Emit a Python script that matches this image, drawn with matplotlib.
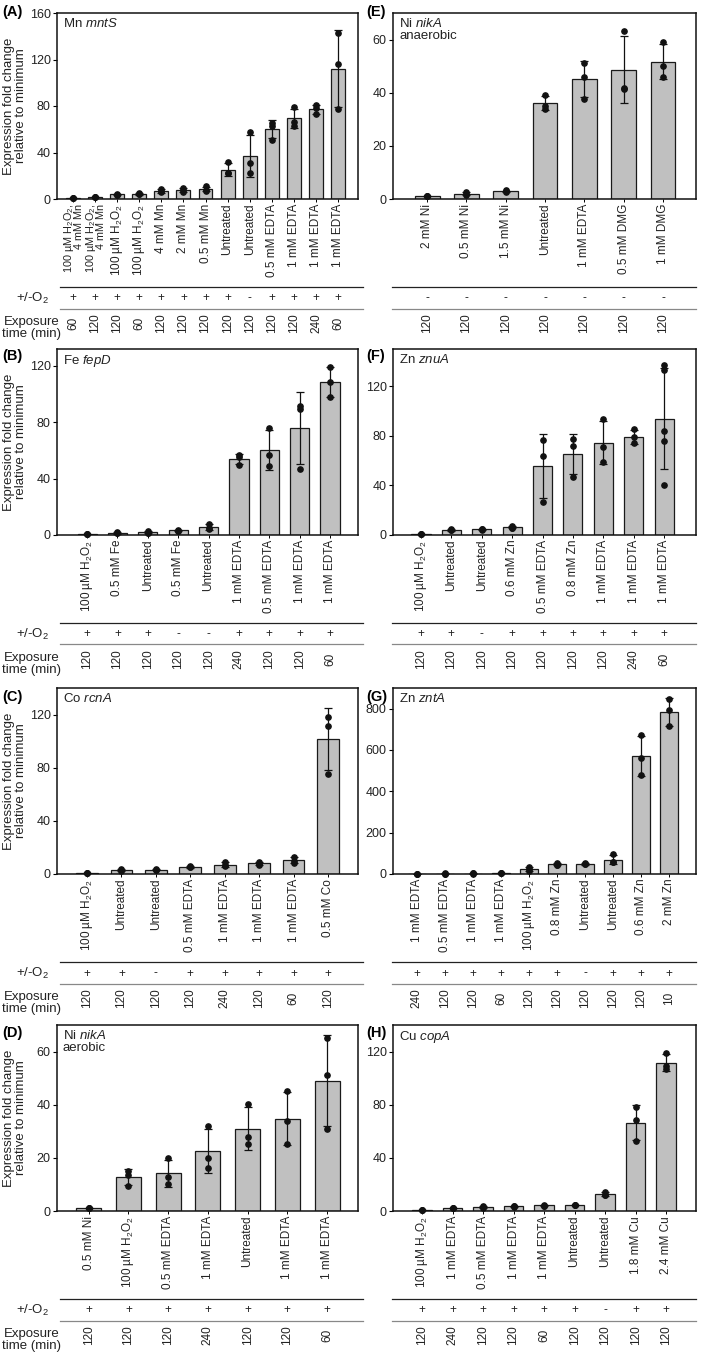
import numpy as np
import matplotlib.pyplot as plt

plt.rcParams['font.family'] = ['Liberation Sans', 'DejaVu Sans']
plt.rcParams['mathtext.fontset'] = 'custom'
plt.rcParams['mathtext.rm'] = 'Liberation Sans'
plt.rcParams['mathtext.it'] = 'Liberation Sans:italic'
plt.rcParams['mathtext.bf'] = 'Liberation Sans:bold'

H2O2 = '100 µM H$_2$O$_2$'

# (A) Mn mntS
A_labels = [H2O2 + ',\n4 mM Mn', H2O2 + ',\n4 mM Mn', H2O2, H2O2, '4 mM Mn', '2 mM Mn',
            '0.5 mM Mn', 'Untreated', 'Untreated', '0.5 mM EDTA', '1 mM EDTA', '1 mM EDTA', '1 mM EDTA']
A_o2 = ['+', '+', '+', '+', '+', '+', '+', '+', '-', '+', '+', '+', '+']
A_time = [60, 120, 120, 60, 120, 120, 120, 120, 120, 120, 120, 240, 60]
A_pts = [[1.0, 0.9, 1.1], [1.4, 2.0, 1.8], [4.5, 3.4, 3.8], [5.5, 4.0, 4.3], [8.5, 5.6, 6.6],
         [9.3, 6.2, 7.5], [10.8, 7.0, 8.0], [32, 22, 22], [57.3, 31.2, 22.1], [65.5, 63, 51],
         [79, 66, 63], [80.5, 78.5, 73], [143, 116, 77]]

# (B) Fe fepD
B_labels = [H2O2, '0.5 mM Fe', 'Untreated', '0.5 mM Fe', 'Untreated', '1 mM EDTA',
            '0.5 mM EDTA', '1 mM EDTA', '1 mM EDTA']
B_o2 = ['+', '+', '+', '-', '-', '+', '+', '+', '+']
B_time = [120, 120, 120, 120, 120, 240, 120, 120, 60]
B_pts = [[1.0, 1.0, 1.0], [2.0, 1.2, 1.2], [2.8, 1.5, 1.5], [3.8, 3.0, 3.1], [8, 5, 4],
         [56.5, 49.5, 55.5], [75.8, 56.7, 48.7], [91.5, 46.8, 89.7], [119.3, 108.3, 97.7]]

# (C) Co rcnA
C_labels = [H2O2, 'Untreated', 'Untreated', '0.5 mM EDTA', '1 mM EDTA', '1 mM EDTA',
            '1 mM EDTA', '0.5 mM Co']
C_o2 = ['+', '+', '-', '+', '+', '+', '+', '+']
C_time = [120, 120, 120, 120, 240, 120, 60, 120]
C_pts = [[1.0, 1.0, 1.0], [3.8, 2.5, 2.7], [3.7, 3.0, 3.2], [6.0, 5.0, 5.0], [9.0, 5.8, 6.5],
         [9.3, 7.5, 7.0], [12.5, 10, 8], [118.2, 111.5, 75.2]]

# (D) Ni nikA aerobic
D_labels = ['0.5 mM Ni', H2O2, '0.5 mM EDTA', '1 mM EDTA', 'Untreated', '1 mM EDTA', '1 mM EDTA']
D_o2 = ['+', '+', '+', '+', '+', '+', '+']
D_time = [120, 120, 120, 240, 120, 120, 60]
D_pts = [[1.0, 1.0, 1.0], [15.2, 13.4, 9.4], [19.9, 12.7, 10], [32, 19.9, 16.2],
         [40.2, 27.7, 25.2], [45.2, 34, 25.2], [65.2, 51.1, 30.9]]

# (E) Ni nikA anaerobic
E_labels = ['2 mM Ni', '0.5 mM Ni', '1.5 mM Ni', 'Untreated', '1 mM EDTA', '0.5 mM DMG', '1 mM DMG']
E_o2 = ['-', '-', '-', '-', '-', '-', '-']
E_time = [120, 120, 120, 120, 120, 120, 120]
E_pts = [[1.0, 1.0, 1.0], [2.5, 1.6, 1.9], [3.2, 2.8, 2.9], [39, 35, 34], [51.3, 45.9, 37.8],
         [63.1, 41.7, 41.4], [59, 49.9, 46.1]]

# (F) Zn znuA
F_labels = [H2O2, 'Untreated', 'Untreated', '0.6 mM Zn', '0.5 mM EDTA', '0.8 mM Zn',
            '1 mM EDTA', '1 mM EDTA', '1 mM EDTA']
F_o2 = ['+', '+', '-', '+', '+', '+', '+', '+', '+']
F_time = [120, 120, 120, 120, 120, 120, 120, 240, 60]
F_pts = [[1.0, 1.0, 1.0], [5.0, 3.8, 4.0], [5.0, 4.3, 4.5], [7.2, 6.0, 6.0], [76.5, 63.6, 26.9],
         [77.1, 71.7, 47], [93.2, 70.9, 59.1], [85.1, 79.2, 73.8], [136.9, 133.4, 83.7, 75.7, 40]]

# (G) Zn zntA
G_labels = ['1 mM EDTA', '0.5 mM EDTA', '1 mM EDTA', '1 mM EDTA', H2O2, '0.8 mM Zn',
            'Untreated', 'Untreated', '0.6 mM Zn', '2 mM Zn']
G_o2 = ['+', '+', '+', '+', '+', '+', '-', '+', '+', '+']
G_time = [240, 120, 120, 60, 120, 120, 120, 120, 120, 10]
G_pts = [[1, 1, 1], [2.5, 2, 2], [2.5, 2.5, 2], [3, 2.5, 3], [35, 22, 15], [53, 44, 43],
         [52, 46, 46], [95, 56, 56], [674.7, 559, 478.7], [848, 792, 715]]

# (H) Cu copA
H_labels = [H2O2, '1 mM EDTA', '0.5 mM EDTA', '1 mM EDTA', '1 mM EDTA', 'Untreated',
            'Untreated', '1.8 mM Cu', '2.4 mM Cu']
H_o2 = ['+', '+', '+', '+', '+', '+', '-', '+', '+']
H_time = [120, 240, 120, 120, 60, 120, 120, 120, 120]
H_pts = [[1.0, 1.0, 1.0], [2.6, 2.0, 2.2], [4, 2.5, 2.8], [3.8, 3.3, 3.4], [4.5, 4.0, 4.1],
         [4.8, 4.3, 4.4], [14.5, 11.8, 12], [78.5, 68.5, 52.5], [119.25, 109.25, 106.75]]

W, H = 714, 1358
fig = plt.figure(figsize=(W / 100, H / 100), dpi=100)

AX_H = 186
panels = [
    # letter, title, labels, o2, time, points, column, row, ylim, yticks, xlim
    ('(A)', 'Mn $\\mathit{mntS}$', A_labels, A_o2, A_time, A_pts, 0, 0, 160, [0, 40, 80, 120, 160], (-0.72, 12.9)),
    ('(B)', 'Fe $\\mathit{fepD}$', B_labels, B_o2, B_time, B_pts, 0, 1, 132, [0, 40, 80, 120], (-0.99, 8.92)),
    ('(C)', 'Co $\\mathit{rcnA}$', C_labels, C_o2, C_time, C_pts, 0, 2, 140, [0, 40, 80, 120], (-0.87, 7.87)),
    ('(D)', 'Ni $\\mathit{nikA}$\naerobic', D_labels, D_o2, D_time, D_pts, 0, 3, 70, [0, 20, 40, 60], (-0.8, 6.78)),
    ('(E)', 'Ni $\\mathit{nikA}$\nanaerobic', E_labels, E_o2, E_time, E_pts, 1, 0, 70, [0, 20, 40, 60], (-0.87, 6.84)),
    ('(F)', 'Zn $\\mathit{znuA}$', F_labels, F_o2, F_time, F_pts, 1, 1, 150, [0, 40, 80, 120], (-0.92, 9.05)),
    ('(G)', 'Zn $\\mathit{zntA}$', G_labels, G_o2, G_time, G_pts, 1, 2, 900, [0, 200, 400, 600, 800], (-0.85, 9.96)),
    ('(H)', 'Cu $\\mathit{copA}$', H_labels, H_o2, H_time, H_pts, 1, 3, 140, [0, 40, 80, 120], (-0.95, 8.98)),
]
cols = [(57, 358, 60, 363), (393, 696, 392, 696)]
row_tops = [13, 349, 688, 1025]
letter_dy = [-1, 7, 9, 8]
TXT = '#222222'

for letter, title, labels, o2, times, pts, col, row, ymax, yticks, xlim in panels:
    left, right, l0, l1 = cols[col]
    top = row_tops[row]
    bottom = top + AX_H
    ax = fig.add_axes([left / W, 1 - bottom / H, (right - left) / W, AX_H / H])
    x = np.arange(len(labels))
    means = np.array([np.mean(p) for p in pts])
    sds = np.array([np.std(p, ddof=1) for p in pts])
    ax.bar(x, means, width=0.63, color='#c0c0c0', edgecolor='#1a1a1a', linewidth=0.9, zorder=2)
    ax.errorbar(x, means, yerr=sds, fmt='none', ecolor='#111111', elinewidth=0.9,
                capsize=3, capthick=0.9, zorder=3)
    for i, p in enumerate(pts):
        ax.plot([i] * len(p), p, 'o', color='#111111', ms=3.8, zorder=4, clip_on=False)
    ax.set_xlim(*xlim)
    ax.set_ylim(0, ymax)
    ax.set_yticks(yticks)
    ax.set_xticks(x)
    ticklabels = ax.set_xticklabels(labels, rotation=90, fontsize=8.5, multialignment='right',
                                    color=TXT, linespacing=0.95)
    for t in ticklabels:
        if '\n' in t.get_text():
            t.set_fontsize(7.8)
            t.set_linespacing(0.85)
    ax.tick_params(axis='x', length=2, width=0.7, pad=1.5)
    ax.tick_params(axis='y', length=3, width=0.8, labelsize=9, pad=1.5, labelcolor=TXT)
    for s in ax.spines.values():
        s.set_linewidth(1.1)
        s.set_color('#111111')
    ax.text(6 / (right - left), 1 - 4 / AX_H, title, transform=ax.transAxes, fontsize=9.5,
            ha='left', va='top', linespacing=1.05, color=TXT)

    # table below the axes
    w = right - left
    ax.plot([(l0 - left) / w, (l1 - left) / w], [-88 / AX_H] * 2, transform=ax.transAxes,
            color='#222222', lw=0.9, clip_on=False)
    ax.plot([(l0 - left) / w, (l1 - left) / w], [-109.5 / AX_H] * 2, transform=ax.transAxes,
            color='#888888', lw=0.9, clip_on=False)
    tr = ax.get_xaxis_transform()
    for i in x:
        ax.text(i, -99.5 / AX_H, o2[i], transform=tr, ha='center', va='center', fontsize=8.5,
                color=TXT)
        ax.text(i, -124 / AX_H, str(times[i]), transform=tr, ha='center', va='center',
                rotation=90, fontsize=8.5, color=TXT)

    # panel letter
    lx = 2 if col == 0 else 366
    fig.text(lx / W, 1 - (top + letter_dy[row]) / H, letter, fontsize=10.5, fontweight='bold',
             ha='left', va='center')

    if col == 0:
        fig.text(15 / W, 1 - (top + AX_H / 2) / H, 'Expression fold change\nrelative to minimum',
                 rotation=90, ha='center', va='center', fontsize=9.5, color=TXT,
                 linespacing=1.05)
        fig.text(32 / W, 1 - (bottom + 99.5) / H, '+/-O$_2$', ha='center', va='center',
                 fontsize=9.5, color=TXT)
        fig.text(32 / W, 1 - (bottom + 129) / H, 'Exposure\ntime (min)', ha='center',
                 va='center', fontsize=9.5, color=TXT, linespacing=1.05)

fig.savefig('out.png', dpi=100)
